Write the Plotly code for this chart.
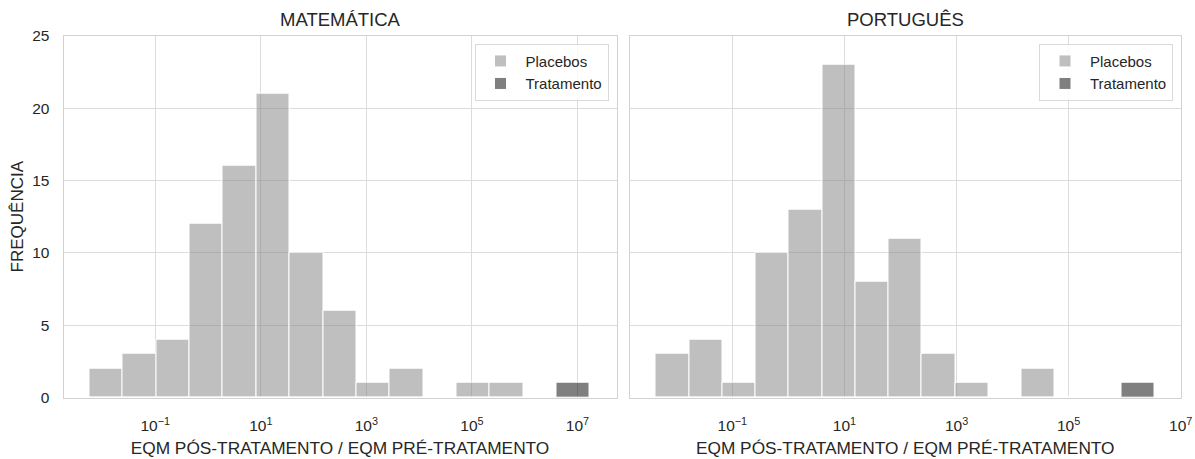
import numpy as np
import plotly.graph_objects as go

# ---------------- data ----------------
# log10 of the ratio (EQM pós / EQM pré): first and last bin edges per subject
mat_log_min, mat_log_max = -2.245, 7.233
por_log_min, por_log_max = -2.363, 6.530
n_bins = 15

mat_placebos = [2, 3, 4, 12, 16, 21, 10, 6, 1, 2, 0, 1, 1, 0, 0]
mat_tratamento = [0, 0, 0, 0, 0, 0, 0, 0, 0, 0, 0, 0, 0, 0, 1]
por_placebos = [3, 4, 1, 10, 13, 23, 8, 11, 3, 1, 0, 2, 0, 0, 0]
por_tratamento = [0, 0, 0, 0, 0, 0, 0, 0, 0, 0, 0, 0, 0, 0, 1]

tick_exps = [-1, 1, 3, 5, 7]
tick_labels = ["10<sup>−1</sup>", "10<sup>1</sup>", "10<sup>3</sup>", "10<sup>5</sup>", "10<sup>7</sup>"]
y_ticks = [0, 5, 10, 15, 20, 25]

titles = ["MATEMÁTICA", "PORTUGUÊS"]
x_title = "EQM PÓS-TRATAMENTO / EQM PRÉ-TRATAMENTO"
y_title = "FREQUÊNCIA"
series_names = ["Placebos", "Tratamento"]

# ---------------- styling ----------------
W, H = 1195, 459
FONT = "Arial, Liberation Sans, sans-serif"
TXT = "#262626"
GRID = "#dcdcdc"
FRAME = "#d2d2d2"
C_PLAC = "rgba(128,128,128,0.5)"
C_TRAT = "rgba(0,0,0,0.5)"

# plot areas in pixels
L1, R1 = 63.5, 616.5
L2, R2 = 629.5, 1181.0
TOP, BOT = 35.7, 397.6


def bins(lo, hi):
    edges = np.linspace(lo, hi, n_bins + 1)
    centers = (edges[:-1] + edges[1:]) / 2
    return centers, edges[1] - edges[0]


fig = go.Figure()

panels = [
    (mat_log_min, mat_log_max, mat_placebos, mat_tratamento, "x", "y", "legend"),
    (por_log_min, por_log_max, por_placebos, por_tratamento, "x2", "y2", "legend2"),
]
for lo, hi, plac, trat, xa, ya, lg in panels:
    centers, width = bins(lo, hi)
    fig.add_trace(go.Bar(
        x=centers, y=plac, width=width, name=series_names[0],
        marker=dict(color=C_PLAC, line=dict(color="white", width=1)),
        xaxis=xa, yaxis=ya, legend=lg,
    ))
    fig.add_trace(go.Bar(
        x=centers, y=trat, width=width, name=series_names[1],
        marker=dict(color=C_TRAT, line=dict(color="white", width=1)),
        xaxis=xa, yaxis=ya, legend=lg,
    ))

ydom = [1 - BOT / H, 1 - TOP / H]

xcommon = dict(
    tickmode="array", tickvals=tick_exps, ticktext=tick_labels,
    showgrid=True, gridcolor=GRID, gridwidth=1,
    showline=True, linecolor=FRAME, linewidth=1, mirror=True,
    zeroline=False, ticks="", ticklabelstandoff=14, automargin=False,
    tickfont=dict(family=FONT, size=15.5, color=TXT),
    title=dict(text=x_title, font=dict(family=FONT, size=17.3, color=TXT), standoff=8),
)
ycommon = dict(
    range=[0, 25], tickmode="array", tickvals=y_ticks,
    showgrid=True, gridcolor=GRID, gridwidth=1,
    showline=True, linecolor=FRAME, linewidth=1, mirror=True,
    zeroline=False, ticks="", domain=ydom, automargin=False,
    tickfont=dict(family=FONT, size=15.5, color=TXT),
)

fig.update_layout(
    width=W, height=H,
    margin=dict(l=0, r=0, t=0, b=0, autoexpand=False),
    paper_bgcolor="white", plot_bgcolor="white",
    barmode="overlay", bargap=0,
    font=dict(family=FONT, color=TXT),
    xaxis=dict(domain=[L1 / W, R1 / W], range=[-2.74, 7.74], anchor="y", **xcommon),
    xaxis2=dict(domain=[L2 / W, R2 / W], range=[-2.835, 7.005], anchor="y2", **xcommon),
    yaxis=dict(anchor="x", ticklabelstandoff=10,
               title=dict(text=y_title, font=dict(family=FONT, size=17, color=TXT), standoff=4),
               **ycommon),
    yaxis2=dict(anchor="x2", matches="y", showticklabels=False, **ycommon),
    legend=dict(
        x=(R1 - 8) / W, y=1 - (TOP + 8) / H, xanchor="right", yanchor="top",
        bgcolor="rgba(255,255,255,0.8)", bordercolor="#d9d9d9", borderwidth=1,
        font=dict(family=FONT, size=15, color=TXT), itemwidth=40,
    ),
    legend2=dict(
        x=(R2 - 8) / W, y=1 - (TOP + 8) / H, xanchor="right", yanchor="top",
        bgcolor="rgba(255,255,255,0.8)", bordercolor="#d9d9d9", borderwidth=1,
        font=dict(family=FONT, size=15, color=TXT), itemwidth=40,
    ),
)

for title, (l, r) in zip(titles, [(L1, R1), (L2, R2)]):
    fig.add_annotation(
        text=title, x=(l + r) / 2 / W, y=1 - 19 / H, xref="paper", yref="paper",
        xanchor="center", yanchor="middle", showarrow=False,
        font=dict(family=FONT, size=18.5, color=TXT),
    )

fig.write_html(
    "out.html",
    config={"displayModeBar": False},
    post_script="document.body.style.margin='0';document.body.style.overflow='hidden';",
)
